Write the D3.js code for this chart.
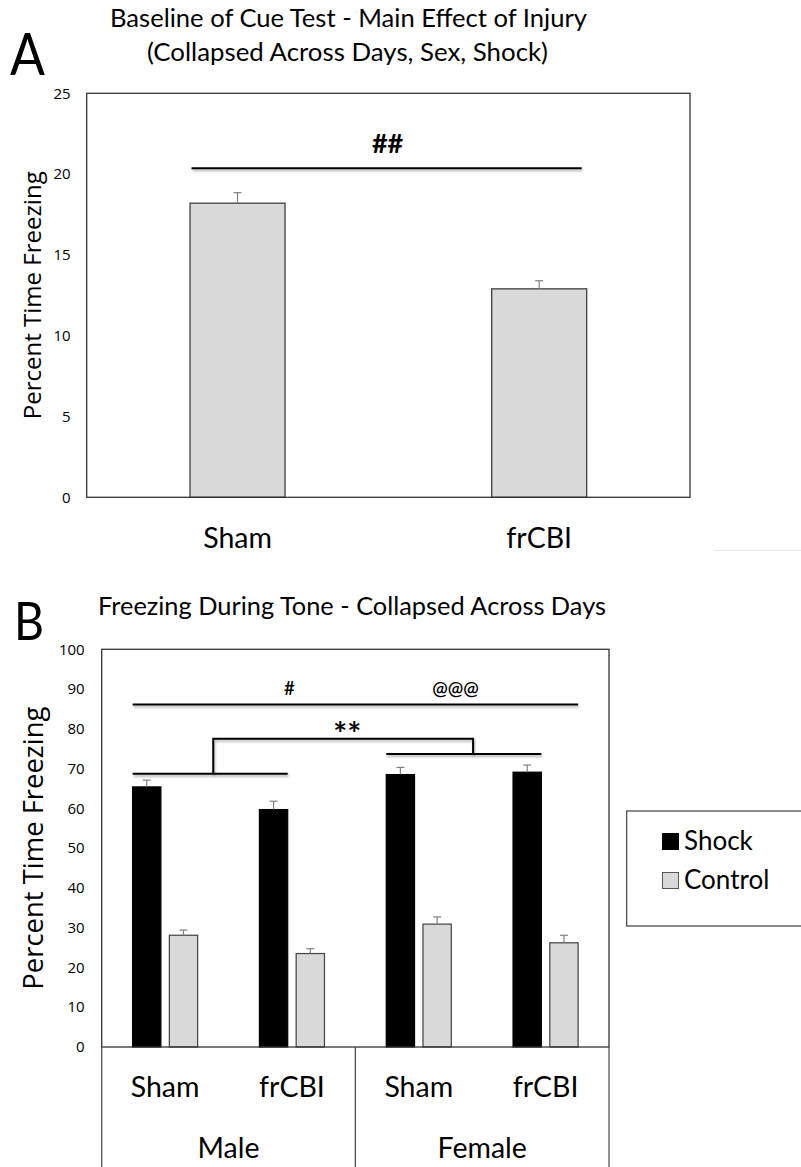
<!DOCTYPE html>
<html>
<head>
<meta charset="utf-8">
<script src="https://cdn.jsdelivr.net/npm/d3@7/dist/d3.min.js"></script>
<style>
  html, body { margin: 0; padding: 0; background: #fff; }
  svg { display: block; }
  .calib { font-family: Lato, "Open Sans", sans-serif; fill: #000; }
  .segoe { font-family: "Open Sans", Lato, sans-serif; fill: #000; }
</style>
</head>
<body>
<svg id="fig" width="801" height="1167"></svg>
<script>
// ---- Panel A: baseline freezing, main effect of injury ----
const injuryGroups = ["Sham", "frCBI"];
const baselineMeans = [18.2, 12.9];
const baselineSem = [0.65, 0.5];
const yTicksA = [0, 5, 10, 15, 20, 25];

// ---- Panel B: freezing during tone ----
const toneGroups = ["Male Sham", "Male frCBI", "Female Sham", "Female frCBI"];
const injuryLabels = ["Sham", "frCBI", "Sham", "frCBI"];
const sexLabels = ["Male", "Female"];
const conditions = ["Shock", "Control"];
const shockMeans = [65.4, 59.7, 68.5, 69.1];
const shockSem = [1.7, 2.1, 1.8, 1.8];
const controlMeans = [28.1, 23.5, 30.9, 26.2];
const controlSem = [1.3, 1.2, 1.8, 1.9];
const yTicksB = [0, 10, 20, 30, 40, 50, 60, 70, 80, 90, 100];

const svg = d3.select("#fig");
svg.append("rect").attr("width", 801).attr("height", 1167).attr("fill", "#fff");

// soft shadow under the significance bars (user-space region so flat lines keep it)
const defs = svg.append("defs");
defs.append("filter").attr("id", "shade")
  .attr("filterUnits", "userSpaceOnUse")
  .attr("x", 0).attr("y", 0).attr("width", 801).attr("height", 1167)
  .append("feDropShadow")
  .attr("dx", 1).attr("dy", 2).attr("stdDeviation", 1.2)
  .attr("flood-color", "#000").attr("flood-opacity", 0.3);

const frameColor = "#333";
const barStroke = "#404040";
const lightFill = "#d9d9d9";
const errColor = "#808080";

function errorBar(g, cx, yTop, yMean, cap) {
  g.append("line").attr("x1", cx).attr("x2", cx).attr("y1", yMean).attr("y2", yTop)
    .attr("stroke", errColor).attr("stroke-width", 1.2);
  g.append("line").attr("x1", cx - cap / 2).attr("x2", cx + cap / 2).attr("y1", yTop).attr("y2", yTop)
    .attr("stroke", errColor).attr("stroke-width", 1.2);
}

// ================= Panel A =================
const A = { left: 86.7, right: 690, top: 93.3, bottom: 497.3 };
const xA = d3.scaleBand().domain(injuryGroups).range([A.left, A.right]).padding(0);
const yA = d3.scaleLinear().domain([0, 25]).range([A.bottom, A.top]);
const barWA = xA.bandwidth() * 0.315;

const gA = svg.append("g");

// panel letter and titles
gA.append("text").attr("class", "calib").attr("x", 10).attr("y", 75)
  .attr("font-size", 58).attr("textLength", 35).attr("lengthAdjust", "spacingAndGlyphs").text("A");
gA.append("text").attr("class", "calib").attr("x", 110).attr("y", 27)
  .attr("font-size", 24.5).attr("textLength", 477).attr("lengthAdjust", "spacingAndGlyphs")
  .text("Baseline of Cue Test - Main Effect of Injury");
gA.append("text").attr("class", "calib").attr("x", 147).attr("y", 61)
  .attr("font-size", 24.5).attr("textLength", 401).attr("lengthAdjust", "spacingAndGlyphs")
  .text("(Collapsed  Across Days, Sex, Shock)");

// y tick labels
gA.append("g").selectAll("text").data(yTicksA).join("text")
  .attr("class", "segoe").attr("x", A.left - 16).attr("y", d => yA(d))
  .attr("dy", "0.35em").attr("text-anchor", "end").attr("font-size", 15)
  .text(d => d);

// y title
gA.append("text").attr("class", "segoe")
  .attr("transform", `translate(41,${(A.top + A.bottom) / 2}) rotate(-90)`)
  .attr("text-anchor", "middle").attr("font-size", 24)
  .attr("textLength", 248).attr("lengthAdjust", "spacingAndGlyphs")
  .text("Percent Time Freezing");

// bars
const barsA = gA.append("g");
injuryGroups.forEach((grp, i) => {
  const cx = xA(grp) + xA.bandwidth() / 2;
  barsA.append("rect")
    .attr("x", cx - barWA / 2).attr("width", barWA)
    .attr("y", yA(baselineMeans[i])).attr("height", yA(0) - yA(baselineMeans[i]))
    .attr("fill", lightFill).attr("stroke", barStroke).attr("stroke-width", 1.3);
  errorBar(barsA, cx, yA(baselineMeans[i] + baselineSem[i]), yA(baselineMeans[i]), 8);
});

// frame
gA.append("rect").attr("x", A.left).attr("y", A.top)
  .attr("width", A.right - A.left).attr("height", A.bottom - A.top)
  .attr("fill", "none").attr("stroke", frameColor).attr("stroke-width", 1.3);

// category labels
gA.append("g").selectAll("text").data(injuryGroups).join("text")
  .attr("class", "calib").attr("x", d => xA(d) + xA.bandwidth() / 2).attr("y", 548)
  .attr("text-anchor", "middle").attr("font-size", 28.5).text(d => d);

// significance: main effect of injury
{
  const x1 = xA("Sham") + xA.bandwidth() / 2 - barWA / 2 + 1.5;
  const x2 = xA("frCBI") + xA.bandwidth() / 2 + barWA / 2 - 5;
  gA.append("line").attr("x1", x1).attr("x2", x2).attr("y1", yA(20.36)).attr("y2", yA(20.36))
    .attr("stroke", "#000").attr("stroke-width", 2).attr("filter", "url(#shade)");
  gA.append("text").attr("class", "calib").attr("x", (x1 + x2) / 2 + 1).attr("y", yA(21.3))
    .attr("text-anchor", "middle").attr("font-size", 27).attr("font-weight", "bold").text("##");
}

// faint separator at right
svg.append("line").attr("x1", 714).attr("x2", 801).attr("y1", 550.5).attr("y2", 550.5)
  .attr("stroke", "#e6e6e6").attr("stroke-width", 1);

// ================= Panel B =================
const B = { left: 101.7, right: 609, top: 649.3, bottom: 1047 };
const xB = d3.scaleBand().domain(toneGroups).range([B.left, B.right]).padding(0);
const xInner = d3.scaleBand().domain(conditions)
  .range([0, xB.bandwidth() * 0.513]).paddingInner(0.23).paddingOuter(0);
const innerOffset = (xB.bandwidth() - xInner.range()[1]) / 2;
const yB = d3.scaleLinear().domain([0, 100]).range([B.bottom, B.top]);

const gB = svg.append("g");

gB.append("text").attr("class", "calib").attr("x", 14).attr("y", 640)
  .attr("font-size", 52).attr("textLength", 30).attr("lengthAdjust", "spacingAndGlyphs").text("B");
gB.append("text").attr("class", "calib").attr("x", 98).attr("y", 615)
  .attr("font-size", 24.5).attr("textLength", 508).attr("lengthAdjust", "spacingAndGlyphs")
  .text("Freezing During Tone - Collapsed  Across Days");

gB.append("g").selectAll("text").data(yTicksB).join("text")
  .attr("class", "segoe").attr("x", B.left - 17).attr("y", d => yB(d))
  .attr("dy", "0.35em").attr("text-anchor", "end").attr("font-size", 15)
  .text(d => d);

gB.append("text").attr("class", "segoe")
  .attr("transform", `translate(43,${(B.top + B.bottom) / 2}) rotate(-90)`)
  .attr("text-anchor", "middle").attr("font-size", 27.5)
  .attr("textLength", 283).attr("lengthAdjust", "spacingAndGlyphs")
  .text("Percent Time Freezing");

const means = { Shock: shockMeans, Control: controlMeans };
const sems = { Shock: shockSem, Control: controlSem };
const fills = { Shock: "#000", Control: lightFill };
const strokes = { Shock: "#000", Control: barStroke };

const barsB = gB.append("g");
toneGroups.forEach((grp, i) => {
  conditions.forEach(c => {
    const x0 = xB(grp) + innerOffset + xInner(c);
    const v = means[c][i];
    barsB.append("rect")
      .attr("x", x0).attr("width", xInner.bandwidth())
      .attr("y", yB(v)).attr("height", yB(0) - yB(v))
      .attr("fill", fills[c]).attr("stroke", strokes[c]).attr("stroke-width", 1.2);
    errorBar(barsB, x0 + xInner.bandwidth() / 2, yB(v + sems[c][i]), yB(v), 8);
  });
});

// frame
gB.append("rect").attr("x", B.left).attr("y", B.top)
  .attr("width", B.right - B.left).attr("height", B.bottom - B.top)
  .attr("fill", "none").attr("stroke", frameColor).attr("stroke-width", 1.3);

// multi-level category axis: separators
const sepX = [B.left, xB(toneGroups[2]), B.right];
gB.append("g").selectAll("line").data(sepX).join("line")
  .attr("x1", d => d).attr("x2", d => d).attr("y1", B.bottom).attr("y2", 1167)
  .attr("stroke", "#555").attr("stroke-width", 1.3);

gB.append("g").selectAll("text").data(toneGroups).join("text")
  .attr("class", "calib").attr("x", d => xB(d) + xB.bandwidth() / 2).attr("y", 1097)
  .attr("text-anchor", "middle").attr("font-size", 28.5)
  .text((d, i) => injuryLabels[i]);

gB.append("g").selectAll("text").data(sexLabels).join("text")
  .attr("class", "calib")
  .attr("x", (d, i) => (xB(toneGroups[i * 2]) + xB(toneGroups[i * 2 + 1]) + xB.bandwidth()) / 2)
  .attr("y", 1158).attr("text-anchor", "middle").attr("font-size", 28.5)
  .text(d => d);

// significance markers
const barLeft = (g) => xB(g) + innerOffset + xInner("Shock");
const shockRight = (g) => xB(g) + innerOffset + xInner("Shock") + xInner.bandwidth();
const ctrlRight = (g) => xB(g) + innerOffset + xInner("Control") + xInner.bandwidth();
const sig = gB.append("g");
const sigLine = (x1, y1, x2, y2) => sig.append("line")
  .attr("x1", x1).attr("x2", x2).attr("y1", y1).attr("y2", y2)
  .attr("stroke", "#000").attr("stroke-width", 2).attr("filter", "url(#shade)");

// overall effects line (# injury, @@@ sex)
const topL = barLeft("Male Sham"), topR = ctrlRight("Female frCBI");
sigLine(topL, yB(86.1), topR, yB(86.1));
sig.append("text").attr("class", "calib")
  .attr("x", xB("Male frCBI") + xB.bandwidth() / 2 - 2.5).attr("y", yB(88.4))
  .attr("text-anchor", "middle").attr("font-size", 18.5).attr("font-weight", 600).text("#");
sig.append("text").attr("class", "calib")
  .attr("x", xB("Female Sham") + xB.bandwidth() * 0.79).attr("y", yB(88.4))
  .attr("text-anchor", "middle").attr("font-size", 18.5).attr("font-weight", 600).text("@@@");

// shock bars: male vs female
const mL = barLeft("Male Sham"), mR = shockRight("Male frCBI");
const fL = barLeft("Female Sham"), fR = shockRight("Female frCBI");
const mMid = mL + (mR - mL) * 0.52, fMid = fL + (fR - fL) * 0.56;
sigLine(mL, yB(68.7), mR, yB(68.7));
sigLine(fL, yB(73.7), fR, yB(73.7));
sig.append("path")
  .attr("d", `M${mMid},${yB(68.7)}V${yB(77.5)}H${fMid}V${yB(73.7)}`)
  .attr("fill", "none").attr("stroke", "#000").attr("stroke-width", 2).attr("filter", "url(#shade)");
sig.append("text").attr("class", "calib")
  .attr("x", (mMid + fMid) / 2 + 4).attr("y", yB(75.6))
  .attr("text-anchor", "middle").attr("font-size", 33).attr("font-weight", "bold").text("**");

// legend
const leg = svg.append("g");
leg.append("rect").attr("x", 626.7).attr("y", 811).attr("width", 190).attr("height", 115)
  .attr("fill", "#fff").attr("stroke", "#404040").attr("stroke-width", 1.2);
conditions.forEach((c, i) => {
  const y = 850 + i * 39;
  leg.append("rect").attr("x", 662.5).attr("y", y - 16.5).attr("width", 16).attr("height", 16)
    .attr("fill", fills[c]).attr("stroke", c === "Shock" ? "#000" : "#595959").attr("stroke-width", 1);
  leg.append("text").attr("class", "calib").attr("x", 684).attr("y", y)
    .attr("font-size", 26).text(c);
});
</script>
</body>
</html>
